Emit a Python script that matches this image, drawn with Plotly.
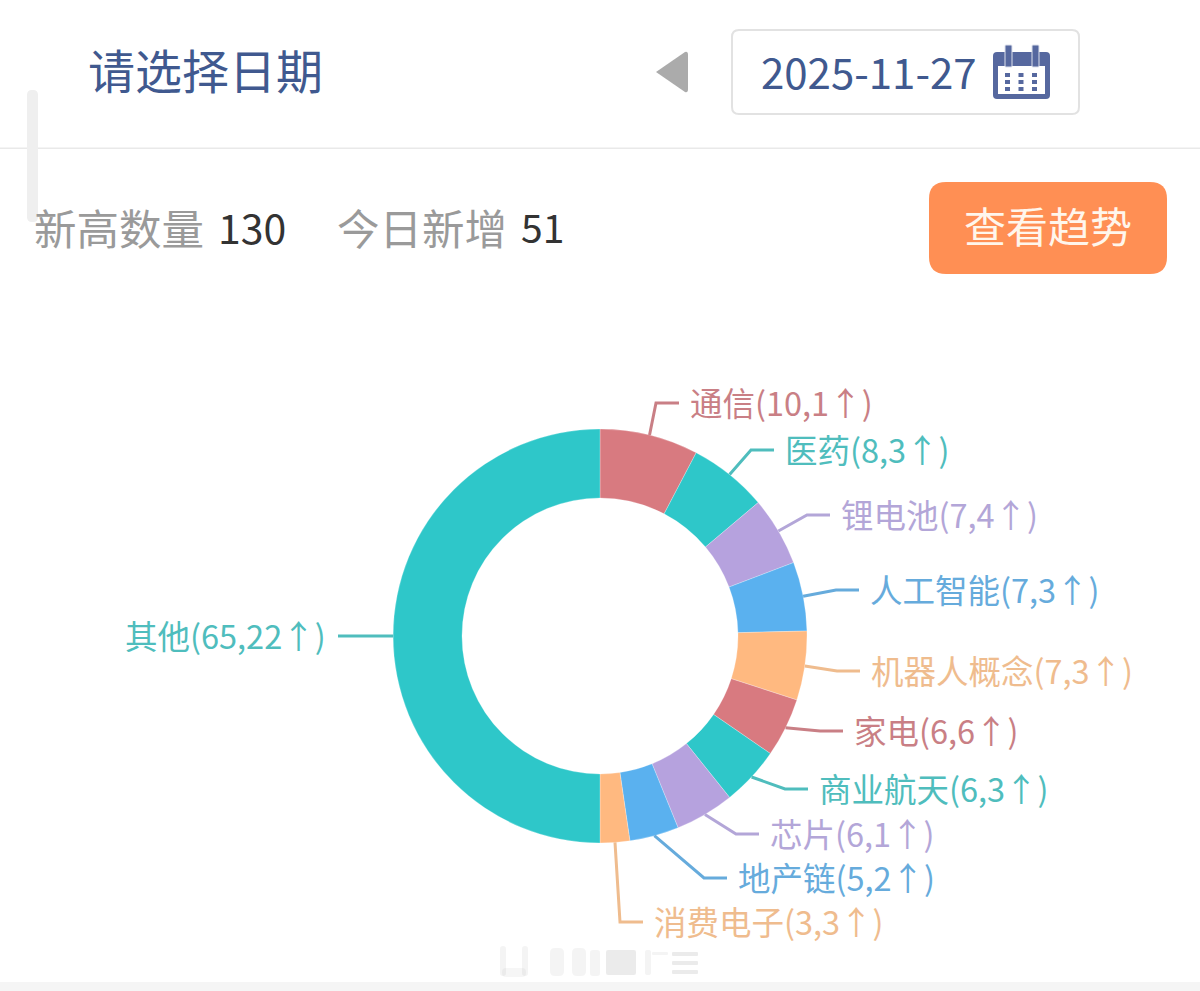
import math
import plotly.graph_objects as go

W, H = 1200, 991

# ---- data ----
names = ["通信", "医药", "锂电池", "人工智能", "机器人概念", "家电", "商业航天", "芯片", "地产链", "消费电子", "其他"]
totals = [10, 8, 7, 7, 7, 6, 6, 6, 5, 3, 65]
new_today = [1, 3, 4, 3, 3, 6, 3, 1, 2, 3, 22]
slice_colors = ["#d87a80", "#2ec7c9", "#b6a2de", "#5ab1ef", "#ffb980",
                "#d87a80", "#2ec7c9", "#b6a2de", "#5ab1ef", "#ffb980", "#2ec7c9"]
label_colors = ["#C97F85", "#4FBDBD", "#B3A6D8", "#66ABDC", "#EFBC8E",
                "#C97F85", "#4FBDBD", "#B3A6D8", "#66ABDC", "#EFBC8E", "#4FBDBD"]
date_text = "2025-11-27"
new_high_count = 130
new_today_count = 51

# ---- label layout (pixels) ----
label_x = [690, 785, 841, 870, 871, 854, 819, 770, 738, 654, 326]
label_y = [403, 450, 515, 590, 671, 731, 789, 834, 878, 922, 636]
CX, CY, R_OUT, R_IN = 600, 636, 207, 138
LEG2 = 23
CJK = "Noto Sans CJK SC"

px = lambda x: x / W
py = lambda y: 1 - y / H


def rrect(x0, y0, x1, y1, r):
    return (f"M {px(x0+r)} {py(y0)} L {px(x1-r)} {py(y0)} "
            f"Q {px(x1)} {py(y0)} {px(x1)} {py(y0+r)} L {px(x1)} {py(y1-r)} "
            f"Q {px(x1)} {py(y1)} {px(x1-r)} {py(y1)} L {px(x0+r)} {py(y1)} "
            f"Q {px(x0)} {py(y1)} {px(x0)} {py(y1-r)} L {px(x0)} {py(y0+r)} "
            f"Q {px(x0)} {py(y0)} {px(x0+r)} {py(y0)} Z")


def box(x0, y0, x1, y1, r=0, fill="#fff", line=None, lw=0, op=1):
    return dict(type="path", xref="paper", yref="paper", path=rrect(x0, y0, x1, y1, r) if r else
                f"M {px(x0)} {py(y0)} L {px(x1)} {py(y0)} L {px(x1)} {py(y1)} L {px(x0)} {py(y1)} Z",
                fillcolor=fill, opacity=op, line=dict(color=line or "rgba(0,0,0,0)", width=lw))


def text(x, y, s, size, color, anchor="left"):
    return dict(x=px(x), y=py(y), xref="paper", yref="paper", text=s, showarrow=False,
                xanchor=anchor, yanchor="middle", borderpad=0, borderwidth=0,
                font=dict(family=CJK, size=size, color=color))


shapes, ann = [], []

# page chrome
shapes.append(box(0, 147.5, W, 149, fill="#E9E9E9"))
shapes.append(box(27, 90, 38, 222, r=5, fill="#EFEFEF"))
shapes.append(box(0, 982, W, H, fill="#F5F5F5"))
shapes.append(dict(type="path", xref="paper", yref="paper",
                   path=f"M {px(656)} {py(72)} L {px(685)} {py(52)} Q {px(688)} {py(51)} {px(688)} {py(55)} "
                        f"L {px(688)} {py(89)} Q {px(688)} {py(93)} {px(685)} {py(92)} Z",
                   fillcolor="#ABABAB", line=dict(width=0)))
shapes.append(box(732, 30, 1079, 114, r=7, fill="#fff", line="#E2E2E2", lw=2))

# calendar icon
ICON = "#56689F"
shapes.append(box(993, 52, 1050, 99, r=4, fill=ICON))
shapes.append(box(998, 66, 1045, 94, fill="#fff"))
for ix in (1005, 1032):
    shapes.append(box(ix, 45, ix + 7, 67, r=1, fill=ICON, line="#DDE1EC", lw=1))
for gx in (1005, 1018.5, 1032):
    for gy in (73, 80, 87):
        shapes.append(box(gx, gy, gx + 5, gy + 4, fill=ICON))

# button
shapes.append(box(929, 182, 1167, 274, r=17, fill="#FF8F54"))

# blurred watermark
for x0, y0, x1, y1, r, op in [(500, 946, 506, 976, 3, .10), (522, 946, 528, 976, 3, .10),
                              (502, 968, 526, 977, 4, .08), (550, 948, 564, 976, 5, .10),
                              (572, 948, 586, 976, 5, .10), (590, 950, 600, 976, 3, .10),
                              (606, 950, 636, 975, 2, .18), (645, 950, 651, 975, 2, .10),
                              (652, 952, 668, 955, 1, .10), (672, 952, 698, 956, 1, .18),
                              (672, 961, 698, 965, 1, .18), (672, 970, 698, 974, 1, .18)]:
    shapes.append(box(x0, y0, x1, y1, r=r, fill="#909090", op=op))

# header texts
ann += [
    text(87.5, 69, "请选择日期", 47, "#40598F"),
    text(761, 70, date_text, 42, "#40598F"),
    text(34, 226, "新高数量", 42.5, "#9A9A9A"),
    text(218, 226, str(new_high_count), 41, "#333333"),
    text(337, 226, "今日新增", 42.5, "#9A9A9A"),
    text(521, 226, str(new_today_count), 39, "#333333"),
    text(964, 225, "查看趋势", 42, "#FFF6EC"),
]

# leader lines and labels derived from the slice angles
total = sum(totals)
cum = 0
for i, v in enumerate(totals):
    mid = (cum + v / 2) / total * 2 * math.pi
    cum += v
    sx, sy = CX + R_OUT * math.sin(mid), CY - R_OUT * math.cos(mid)
    ly = label_y[i]
    right = math.sin(mid) >= 0
    endx = label_x[i] - 11 if right else label_x[i] + 12
    ex = endx - LEG2 if right else endx + LEG2
    shapes.append(dict(type="path", xref="paper", yref="paper",
                       path=f"M {px(sx)} {py(sy)} L {px(ex)} {py(ly)} L {px(endx)} {py(ly)}",
                       fillcolor="rgba(0,0,0,0)",
                       line=dict(color=label_colors[i], width=3)))
    ann.append(text(label_x[i], ly - 2, f"{names[i]}({totals[i]},{new_today[i]}↑)", 32.5,
                    label_colors[i], "left" if right else "right"))

fig = go.Figure(go.Pie(
    labels=names, values=totals, sort=False, direction="clockwise", rotation=0,
    hole=R_IN / R_OUT, textinfo="none", showlegend=False, hoverinfo="label+value",
    marker=dict(colors=slice_colors, line=dict(color="rgba(255,255,255,0.5)", width=0.5)),
    domain=dict(x=[px(CX - R_OUT), px(CX + R_OUT)], y=[py(CY + R_OUT), py(CY - R_OUT)]),
))
fig.update_layout(width=W, height=H, margin=dict(l=0, r=0, t=0, b=0, pad=0),
                  paper_bgcolor="#FFFFFF", plot_bgcolor="#FFFFFF",
                  shapes=shapes, annotations=ann, showlegend=False)
fig.write_html("out.html", config={"displayModeBar": False},
               post_script="document.body.style.margin='0';document.documentElement.style.overflow='hidden';")
